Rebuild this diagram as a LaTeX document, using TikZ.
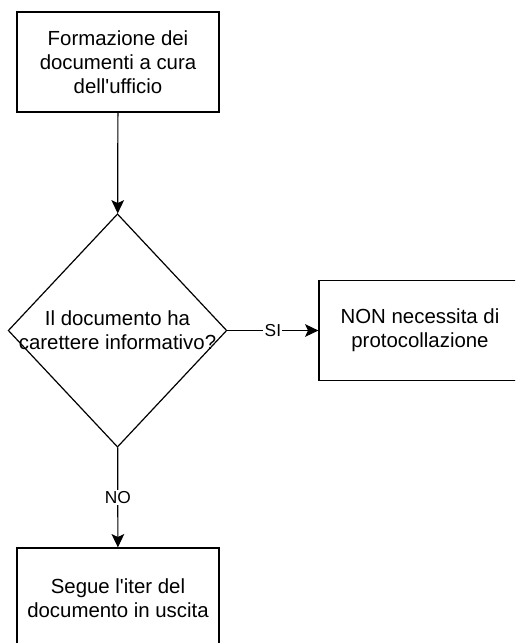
\documentclass[tikz,border=0pt]{standalone}
\usepackage{fontspec}
\setmainfont{Liberation Sans}
\usetikzlibrary{arrows.meta,shapes.geometric}

\tikzset{
  box/.style={draw, line width=0.9pt, minimum width=151.5pt, minimum height=75pt,
    align=center, font=\fontsize{15.3}{18}\selectfont},
  decision/.style={draw, diamond, line width=0.9pt, minimum width=164pt,
    minimum height=175pt, inner sep=0pt},
  dtext/.style={align=center, font=\fontsize{15.3}{18}\selectfont},
  lbl/.style={fill=white, inner sep=1pt, font=\fontsize{13}{15}\selectfont},
}

\begin{document}
\begin{tikzpicture}[x=0.75pt,y=-0.75pt,>={Stealth[length=10pt,width=9.5pt,inset=2.2pt]},line width=0.9pt]
  \useasboundingbox (0,0) rectangle (515,643);
  \clip (0,0) rectangle (515,643);
  % boxes run past the page edge, as in the original
  \node[box] (form) at (118,62) {Formazione dei\\documenti a cura\\dell\textquotesingle ufficio};
  \node[decision] (q) at (117.5,330.5) {};
  \node[dtext] (qtext) at (q) {Il documento ha\\carettere informativo?};
  \node[box] (non) at (420,330.5) {NON necessita di\\protocollazione};
  \node[box] (segue) at (118,598) {Segue l\textquotesingle iter del\\documento in uscita};
  \draw[->] (form) -- (q);
  \draw[->] (q) -- node[lbl] {SI} (non);
  \draw[->] (q) -- node[lbl] {NO} (segue);
\end{tikzpicture}
\end{document}
